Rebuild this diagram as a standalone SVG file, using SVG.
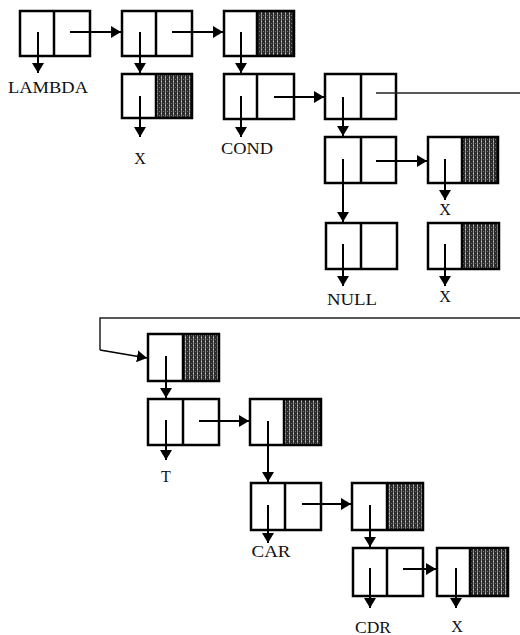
<svg xmlns="http://www.w3.org/2000/svg" width="520" height="635" viewBox="0 0 520 635">
<style>
.box{fill:none;stroke:#000;stroke-width:2.5}
.cell{fill:#fff}
.shade{fill:url(#sh)}
.div{stroke:#000;stroke-width:2.5}
.ptr{stroke:#000;stroke-width:2;fill:none;marker-end:url(#ah)}
.thin{stroke:#222;stroke-width:1.5;fill:none}
.lbl{font-family:"Liberation Serif","Times New Roman",serif;font-size:16px;fill:#111;text-anchor:middle}
</style>
<defs>
<pattern id="sh" width="4" height="4" patternUnits="userSpaceOnUse">
<rect width="4" height="4" fill="#2a2a2a"/>
<rect x="1" y="0" width="1" height="4" fill="#8a8a8a"/>
<rect x="1" y="1" width="1" height="1" fill="#d0d0d0"/>
<rect x="3" y="3" width="1" height="1" fill="#777"/>
</pattern>
<marker id="ah" markerUnits="userSpaceOnUse" markerWidth="10" markerHeight="12" refX="10" refY="6" orient="auto">
<path d="M0,0 L10,6 L0,12 z" fill="#000"/>
</marker>
</defs>

<g id="n1"><rect class="cell" x="20" y="11" width="70" height="45"/><rect class="box" x="20" y="11" width="70" height="45"/><line class="div" x1="54" y1="11" x2="54" y2="56"/></g>
<g id="n2"><rect class="cell" x="122" y="11" width="70" height="45"/><rect class="box" x="122" y="11" width="70" height="45"/><line class="div" x1="156" y1="11" x2="156" y2="56"/></g>
<g id="n3"><rect class="shade" x="257" y="11" width="37" height="45"/><rect class="box" x="224" y="11" width="70" height="45"/><line class="div" x1="257" y1="11" x2="257" y2="56"/></g>
<g id="n4"><rect class="shade" x="156" y="74" width="36" height="44"/><rect class="box" x="122" y="74" width="70" height="44"/><line class="div" x1="156" y1="74" x2="156" y2="118"/></g>
<g id="n5"><rect class="box" x="224" y="74" width="70" height="45"/><line class="div" x1="257" y1="74" x2="257" y2="119"/></g>
<g id="n6"><rect class="box" x="325" y="74" width="71" height="45"/><line class="div" x1="361" y1="74" x2="361" y2="119"/></g>
<g id="n7"><rect class="box" x="325" y="137" width="71" height="46"/><line class="div" x1="361" y1="137" x2="361" y2="183"/></g>
<g id="n8"><rect class="shade" x="462" y="137" width="36" height="46"/><rect class="box" x="428" y="137" width="70" height="46"/><line class="div" x1="462" y1="137" x2="462" y2="183"/></g>
<g id="n9"><rect class="box" x="326" y="223" width="71" height="46"/><line class="div" x1="361" y1="223" x2="361" y2="269"/></g>
<g id="n10"><rect class="shade" x="462" y="223" width="37" height="46"/><rect class="box" x="428" y="223" width="71" height="46"/><line class="div" x1="462" y1="223" x2="462" y2="269"/></g>
<g id="n11"><rect class="shade" x="183" y="334" width="36" height="47"/><rect class="box" x="148" y="334" width="71" height="47"/><line class="div" x1="183" y1="334" x2="183" y2="381"/></g>
<g id="n12"><rect class="box" x="148" y="399" width="71" height="46"/><line class="div" x1="183" y1="399" x2="183" y2="445"/></g>
<g id="n13"><rect class="shade" x="284" y="399" width="37" height="46"/><rect class="box" x="250" y="399" width="71" height="46"/><line class="div" x1="284" y1="399" x2="284" y2="445"/></g>
<g id="n14"><rect class="box" x="251" y="483" width="70" height="47"/><line class="div" x1="285" y1="483" x2="285" y2="530"/></g>
<g id="n15"><rect class="shade" x="387" y="483" width="36" height="47"/><rect class="box" x="352" y="483" width="71" height="47"/><line class="div" x1="387" y1="483" x2="387" y2="530"/></g>
<g id="n16"><rect class="box" x="353" y="548" width="70" height="48"/><line class="div" x1="387" y1="548" x2="387" y2="596"/></g>
<g id="n17"><rect class="shade" x="470" y="548" width="38" height="48"/><rect class="box" x="437" y="548" width="71" height="48"/><line class="div" x1="470" y1="548" x2="470" y2="596"/></g>

<g id="connectors">
<line class="ptr" x1="38" y1="32" x2="38" y2="73"/>
<line class="ptr" x1="70" y1="32" x2="121" y2="32"/>
<line class="ptr" x1="140" y1="32" x2="140" y2="73"/>
<line class="ptr" x1="172" y1="32" x2="223" y2="32"/>
<line class="ptr" x1="241" y1="32" x2="241" y2="73"/>
<line class="ptr" x1="140" y1="96" x2="140" y2="137"/>
<line class="ptr" x1="241" y1="96" x2="241" y2="137"/>
<line class="ptr" x1="274" y1="97" x2="324" y2="97"/>
<line class="ptr" x1="343" y1="97" x2="343" y2="136"/>
<line class="thin" x1="376" y1="93" x2="520" y2="93"/>
<line class="ptr" x1="343" y1="159" x2="343" y2="222"/>
<line class="ptr" x1="376" y1="161" x2="427" y2="161"/>
<line class="ptr" x1="445" y1="159" x2="445" y2="200"/>
<line class="ptr" x1="343" y1="244" x2="343" y2="286"/>
<line class="ptr" x1="445" y1="244" x2="445" y2="286"/>
<polyline class="thin" points="520,318 100,318 100,350"/>
<polyline class="ptr" style="stroke-width:1.5" points="100,350 147,358"/>
<line class="ptr" x1="166" y1="356" x2="166" y2="398"/>
<line class="ptr" x1="166" y1="420" x2="166" y2="460"/>
<line class="ptr" x1="199" y1="421" x2="249" y2="421"/>
<line class="ptr" x1="268" y1="421" x2="268" y2="482"/>
<line class="ptr" x1="268" y1="505" x2="268" y2="543"/>
<line class="ptr" x1="302" y1="504" x2="351" y2="504"/>
<line class="ptr" x1="370" y1="505" x2="370" y2="547"/>
<line class="ptr" x1="370" y1="568" x2="370" y2="608"/>
<line class="ptr" x1="403" y1="569" x2="436" y2="569"/>
<line class="ptr" x1="456" y1="568" x2="456" y2="608"/>
</g>

<g id="labels">
<text class="lbl" x="48" y="93" textLength="80" lengthAdjust="spacingAndGlyphs">LAMBDA</text>
<text class="lbl" x="140" y="164">X</text>
<text class="lbl" x="247" y="154" textLength="52" lengthAdjust="spacingAndGlyphs">COND</text>
<text class="lbl" x="445" y="215">X</text>
<text class="lbl" x="352" y="305" textLength="50" lengthAdjust="spacingAndGlyphs">NULL</text>
<text class="lbl" x="445" y="302">X</text>
<text class="lbl" x="166" y="482">T</text>
<text class="lbl" x="271" y="557" textLength="39" lengthAdjust="spacingAndGlyphs">CAR</text>
<text class="lbl" x="373" y="633" textLength="36" lengthAdjust="spacingAndGlyphs">CDR</text>
<text class="lbl" x="457" y="632">X</text>
</g>
</svg>
